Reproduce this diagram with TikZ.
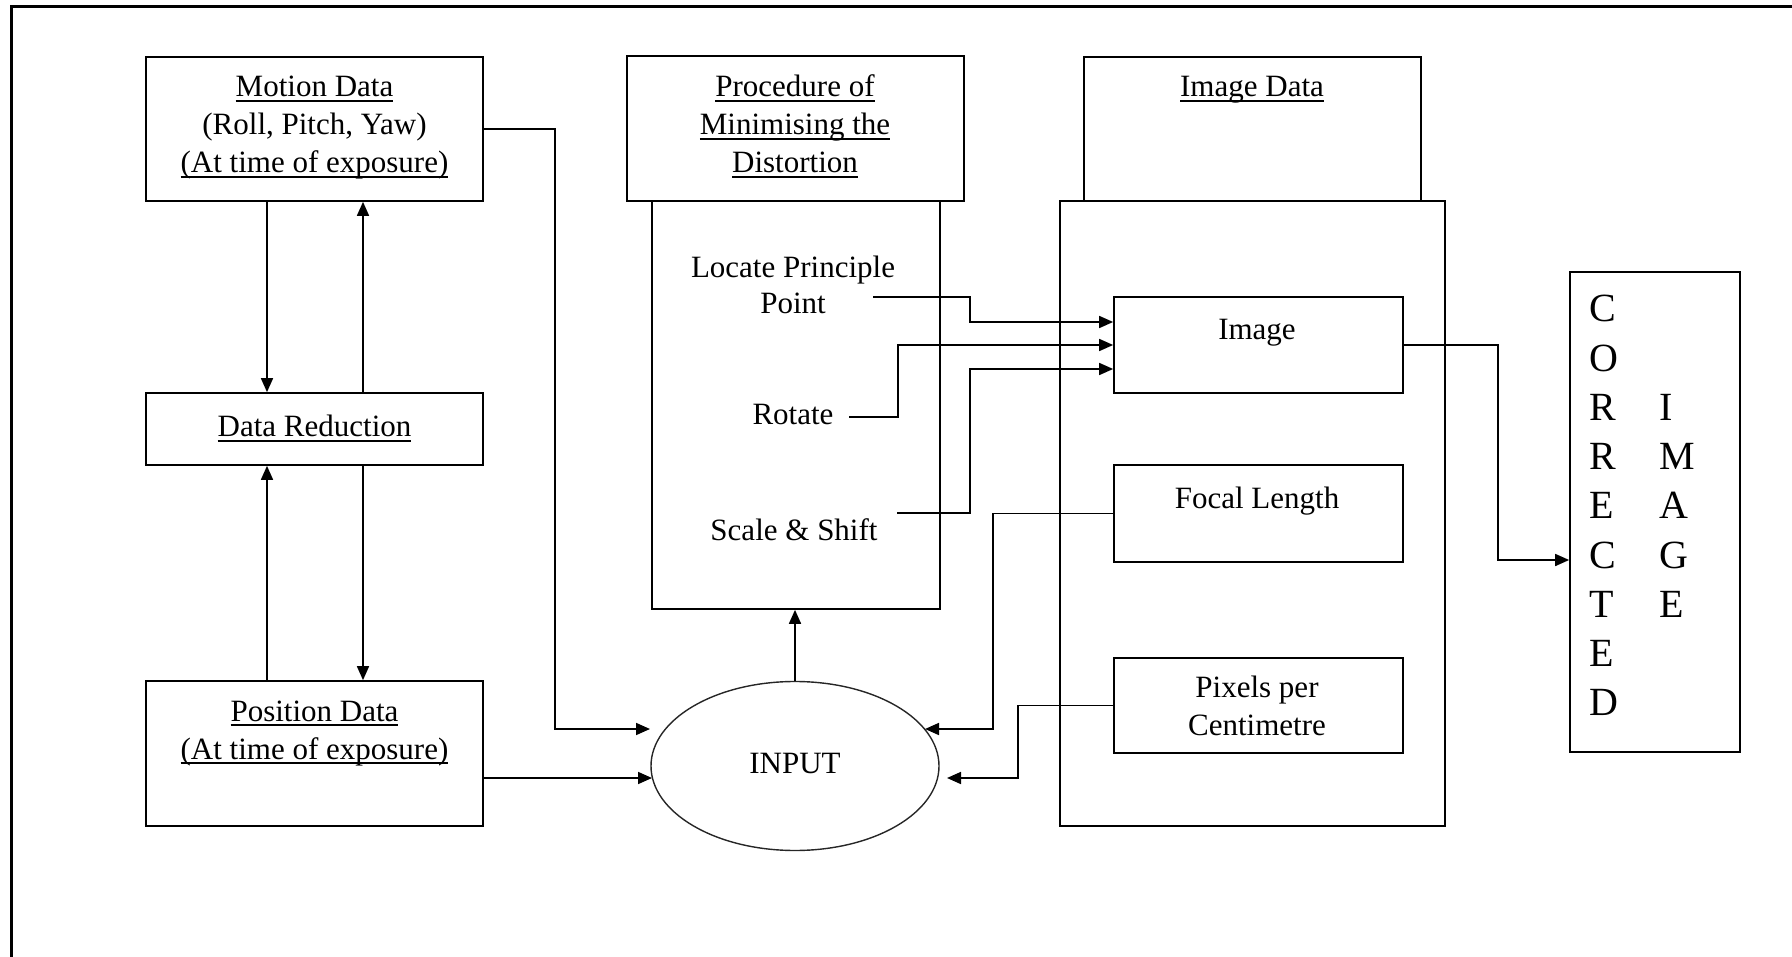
\documentclass[tikz,border=0pt]{standalone}
\usepackage{fontspec}
\setmainfont{Liberation Serif}
\usetikzlibrary{arrows.meta,shapes.geometric}
% underline sitting just below the baseline
\newcommand\undl[1]{\setbox0=\hbox{#1}\rlap{\rule[-4.8pt]{\wd0}{1.5pt}}\box0}
\begin{document}
\begin{tikzpicture}[x=1pt,y=-1pt,
  box/.style={draw, line width=1.7pt, rectangle, inner sep=0pt},
  txt/.style={font=\fontsize{31}{38}\selectfont, inner sep=0pt, anchor=base},
  big/.style={font=\fontsize{40}{48}\selectfont, inner sep=0pt, anchor=base west},
  link/.style={line width=1.7pt},
  arr/.style={link, -{Triangle[length=14pt,width=12pt]}}]
\useasboundingbox (0,0) rectangle (1792,957);

% page frame (left and top edges)
\draw[line width=3pt] (11,957) -- (11,7) -- (1792,7);

% left column
\node[box, minimum width=337pt, minimum height=144pt] (motion)   at (314.5,129)   {};
\node[box, minimum width=337pt, minimum height=72pt]  (reduct)   at (314.5,429)   {};
\node[box, minimum width=337pt, minimum height=145pt] (position) at (314.5,753.5) {};

% procedure column
\node[box, minimum width=337pt, minimum height=145pt] (prochead) at (795.5,128.5) {};
\node[box, minimum width=288pt, minimum height=408pt] (procbody) at (796,405)     {};

% image data column
\node[box, minimum width=337pt, minimum height=144pt] (imghead) at (1252.5,129)   {};
\node[box, minimum width=385pt, minimum height=625pt] (imgbody) at (1252.5,513.5) {};
\node[box, minimum width=289pt, minimum height=96pt]  (image)   at (1258.5,345)   {};
\node[box, minimum width=289pt, minimum height=97pt]  (focal)   at (1258.5,513.5) {};
\node[box, minimum width=289pt, minimum height=95pt]  (pixels)  at (1258.5,705.5) {};

% result
\node[box, minimum width=170pt, minimum height=480pt] (corrected) at (1655,512) {};

% input ellipse
\node[draw=black!85, ellipse, line width=1.4pt, minimum width=288pt,
      minimum height=169pt, inner sep=0pt] (input) at (795,766) {};

% texts
\node[txt] (mt1) at (314.5,97)  {\undl{Motion Data}};
\node[txt] (mt2) at (314.5,135) {(Roll, Pitch, Yaw)};
\node[txt] (mt3) at (314.5,173) {\undl{(At time of exposure)}};
\node[txt] (rt)  at (314.5,437) {\undl{Data Reduction}};
\node[txt] (pt1) at (314.5,721) {\undl{Position Data}};
\node[txt] (pt2) at (314.5,759) {\undl{(At time of exposure)}};
\node[txt] (ph1) at (795,97)  {\undl{Procedure of}};
\node[txt] (ph2) at (795,135) {\undl{Minimising the}};
\node[txt] (ph3) at (795,173) {\undl{Distortion}};
\node[txt] (ih)  at (1252,97) {\undl{Image Data}};
\node[txt] (lp1) at (793,278) {Locate Principle};
\node[txt] (lp2) at (793,314) {Point};
\node[txt] (ro)  at (793,425) {Rotate};
\node[txt] (ss)  at (794,540) {Scale \& Shift};
\node[txt] (imt) at (1257,340) {Image};
\node[txt] (flt) at (1257,508) {Focal Length};
\node[txt] (px1) at (1257,697) {Pixels per};
\node[txt] (px2) at (1257,735) {Centimetre};
\node[txt] (int) at (795,773) {INPUT};
\foreach \ch [count=\i from 0] in {C,O,R,R,E,C,T,E,D}
  \node[big] (cl\i) at (1589,{322+49.2*\i}) {\ch};
\foreach \ch [count=\i from 2] in {I,M,A,G,E}
  \node[big] (cr\i) at (1659,{322+49.2*\i}) {\ch};

% bend points and arrow ends
\coordinate (colA)  at (267,0);
\coordinate (colB)  at (363,0);
\coordinate (mturn) at (555,729);
\coordinate (inA)   at (650,729);
\coordinate (inB)   at (652,778);
\coordinate (lpS)   at (873,297);
\coordinate (lpT)   at (970,322);
\coordinate (roS)   at (849,417);
\coordinate (roT)   at (898,345);
\coordinate (ssS)   at (897,513);
\coordinate (ssT)   at (970,369);
\coordinate (flT)   at (993,729);
\coordinate (inC)   at (925,729);
\coordinate (pxT)   at (1018,778);
\coordinate (inD)   at (947,778);
\coordinate (ciT)   at (1498,560);

% motion / reduction / position exchange
\draw[arr] (motion.south -| colA) -- (reduct.north -| colA);
\draw[arr] (reduct.north -| colB) -- (motion.south -| colB);
\draw[arr] (reduct.south -| colB) -- (position.north -| colB);
\draw[arr] (position.north -| colA) -- (reduct.south -| colA);

% inputs to the ellipse
\draw[arr] (motion.east) -| (mturn) -- (inA);
\draw[arr] (position.east |- inB) -- (inB);
\draw[arr] (focal.west) -| (flT) -- (inC);
\draw[arr] (pixels.west) -| (pxT) -- (inD);
\draw[arr] (input.north) -- (input.north |- procbody.south);

% procedure steps into the image
\draw[arr] (lpS) -| (lpT) -- (image.west |- lpT);
\draw[arr] (roS) -| (roT) -- (image.west |- roT);
\draw[arr] (ssS) -| (ssT) -- (image.west |- ssT);

% image to corrected image
\draw[arr] (image.east) -| (ciT) -- (corrected.west |- ciT);
\end{tikzpicture}
\end{document}
